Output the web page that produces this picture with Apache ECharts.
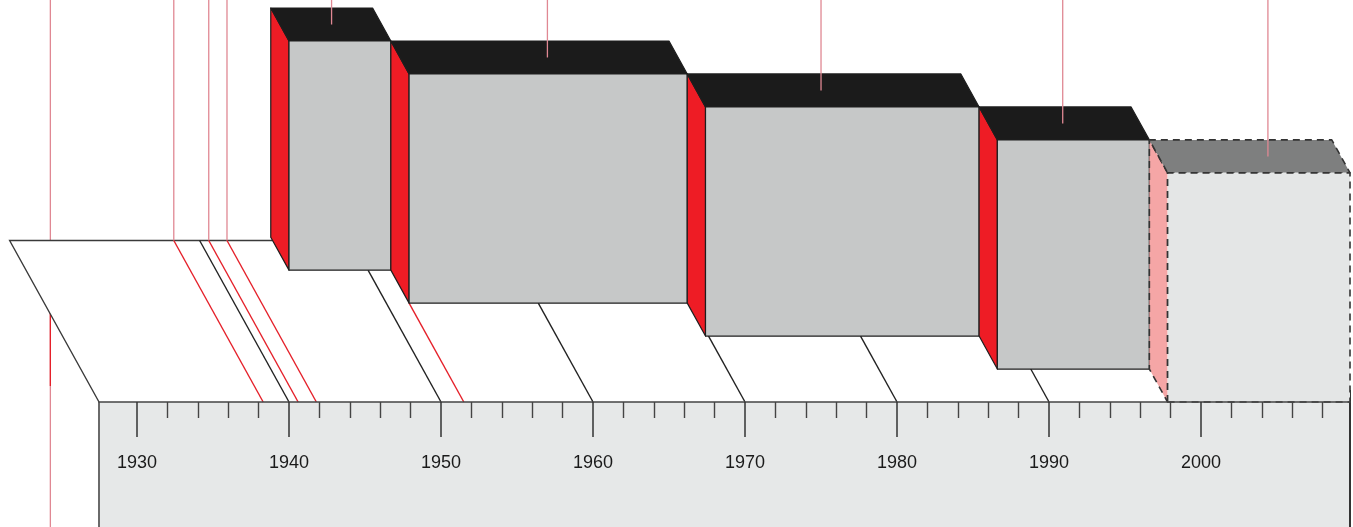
<!DOCTYPE html>
<html>
<head>
<meta charset="utf-8">
<script src="https://cdn.jsdelivr.net/npm/echarts@6/dist/echarts.min.js"></script>
<style>
  html, body { margin: 0; padding: 0; background: #ffffff; }
  #chart { width: 1353px; height: 527px; }
</style>
</head>
<body>
<div id="chart"></div>
<script>
// ---- Timeline scale (years) ----
const yearMin = 1927.5;
const yearMax = 2009.8;
const decadeTicks = [1930, 1940, 1950, 1960, 1970, 1980, 1990, 2000];
const minorTicks = [1932, 1934, 1936, 1938, 1942, 1944, 1946, 1948, 1952, 1954, 1956, 1958,
                    1962, 1964, 1966, 1968, 1972, 1974, 1976, 1978, 1982, 1984, 1986, 1988,
                    1992, 1994, 1996, 1998, 2002, 2004, 2006, 2008];

// ---- Eras, drawn as blocks standing on the floor, each one step nearer the front ----
const eraStart   = [1944.8, 1951.5, 1969.8, 1987.8, 1997.8];
const eraEnd     = [1951.5, 1969.8, 1987.8, 1997.8, 2009.8];
const eraDepth   = [4, 3, 2, 1, 0];
const eraHeight  = [57, 57, 57, 57, 57];
const eraPointer = [1948.2, 1961.2, 1978.0, 1992.7, 2005.0];
const eraProjected = [0, 0, 0, 0, 1];

// ---- Lines on the floor ----
const floorLineYears = [1940, 1950, 1960, 1970, 1980, 1990];
const eventYears = [1938.3, 1940.6, 1941.8];
const markerYears = [1951.5];
const leadYear = 1924.3;
const floorDepth = 4.9;

// Oblique projection: one depth step moves a point back by these axis amounts
const DEPTH_DX = 1.2;   // years
const DEPTH_DY = 8.2;   // height units

const RED = '#e5202a';
const PINK_LINE = '#e08893';
const INK = '#222222';

function project(api, year, depth, h) {
  return api.coord([year - depth * DEPTH_DX, h + depth * DEPTH_DY]);
}

// depth at which a floor line running back from the ruler meets the first block
function stopDepth(year) {
  let d = floorDepth;
  for (let i = 0; i < eraStart.length; i++) {
    if (year >= eraStart[i] && year <= eraEnd[i]) d = Math.min(d, eraDepth[i]);
  }
  return d;
}

const chart = echarts.init(document.getElementById('chart'), null, { renderer: 'canvas' });

const baseCustom = { type: 'custom', coordinateSystem: 'cartesian2d', clip: false, silent: true, animation: false };

const option = {
  animation: false,
  backgroundColor: '#ffffff',
  grid: { left: 99, right: 3, top: 0, bottom: 125 },
  xAxis: [
    {
      type: 'value', min: yearMin, max: yearMax, position: 'bottom', z: 20,
      splitLine: { show: false },
      axisLine: { show: true, lineStyle: { color: '#444', width: 1.5 } },
      axisTick: { show: true, customValues: decadeTicks, length: 35, lineStyle: { color: '#333', width: 1.5 } },
      axisLabel: {
        show: true, customValues: decadeTicks, margin: 52,
        fontFamily: 'Liberation Sans, Arial, sans-serif', fontSize: 18, color: '#1a1a1a',
        formatter: v => String(v)
      }
    },
    {
      type: 'value', min: yearMin, max: yearMax, position: 'bottom', z: 20,
      splitLine: { show: false },
      axisLine: { show: false },
      axisTick: { show: true, customValues: minorTicks, length: 16, lineStyle: { color: '#444', width: 1.4 } },
      axisLabel: { show: false }
    }
  ],
  yAxis: { type: 'value', min: 0, max: 100, show: false },
  series: [
    // vertical lead line at the far left, passing behind the floor
    Object.assign({}, baseCustom, {
      z: 1,
      data: [[leadYear]],
      renderItem: (params, api) => {
        const y = api.value(0);
        const top = api.coord([y, 100]);
        const floorEdge = api.coord([y, 0]);
        const h = api.getHeight();
        return { type: 'group', children: [
          { type: 'line', shape: { x1: top[0], y1: top[1], x2: top[0], y2: h }, style: { stroke: PINK_LINE, lineWidth: 1.3 } },
          { type: 'line', shape: { x1: top[0], y1: floorEdge[1] - 90, x2: top[0], y2: floorEdge[1] - 16 }, style: { stroke: RED, lineWidth: 1.3 } }
        ]};
      }
    }),
    // ruler strip under the axis
    Object.assign({}, baseCustom, {
      z: 2,
      data: [[yearMin, yearMax]],
      renderItem: (params, api) => {
        const l = api.coord([api.value(0), 0]);
        const r = api.coord([api.value(1), 0]);
        const h = api.getHeight();
        return { type: 'group', children: [
          { type: 'rect', shape: { x: l[0], y: l[1], width: r[0] - l[0], height: h - l[1] }, style: { fill: '#e6e8e8' } },
          { type: 'line', shape: { x1: l[0], y1: l[1], x2: l[0], y2: h }, style: { stroke: '#6a6a6a', lineWidth: 2 } },
          { type: 'line', shape: { x1: r[0], y1: l[1] - 12, x2: r[0], y2: h }, style: { stroke: '#333', lineWidth: 2 } }
        ]};
      }
    }),
    // floor
    Object.assign({}, baseCustom, {
      z: 3,
      data: [[yearMin, yearMax]],
      renderItem: (params, api) => {
        const a = api.value(0), b = api.value(1);
        const p = (yr, d) => project(api, yr, d, 0);
        return { type: 'group', children: [
          { type: 'polygon', shape: { points: [p(a, 0), p(a, floorDepth), p(b, floorDepth), p(b, 0)] }, style: { fill: '#ffffff' } },
          { type: 'polyline', shape: { points: [p(a, 0), p(a, floorDepth), p(eraStart[0], floorDepth)] },
            style: { stroke: '#3a3a3a', lineWidth: 1.4, fill: null } }
        ]};
      }
    }),
    // decade lines across the floor
    Object.assign({}, baseCustom, {
      z: 4,
      data: floorLineYears.map(y => [y]),
      renderItem: (params, api) => {
        const y = api.value(0);
        const a = project(api, y, 0, 0), b = project(api, y, stopDepth(y), 0);
        return { type: 'line', shape: { x1: a[0], y1: a[1], x2: b[0], y2: b[1] }, style: { stroke: INK, lineWidth: 1.4 } };
      }
    }),
    // events: a line from above down to the back of the floor, then forward to the ruler
    Object.assign({}, baseCustom, {
      z: 5,
      data: eventYears.map(y => [y]),
      renderItem: (params, api) => {
        const y = api.value(0);
        const top = api.coord([y - floorDepth * DEPTH_DX, 100]);
        const back = project(api, y, floorDepth, 0);
        const front = project(api, y, 0, 0);
        return { type: 'group', children: [
          { type: 'line', shape: { x1: top[0], y1: top[1], x2: back[0], y2: back[1] }, style: { stroke: PINK_LINE, lineWidth: 1.3 } },
          { type: 'line', shape: { x1: back[0], y1: back[1], x2: front[0], y2: front[1] }, style: { stroke: RED, lineWidth: 1.4 } }
        ]};
      }
    }),
    // marker from the ruler to the foot of a block
    Object.assign({}, baseCustom, {
      z: 6,
      data: markerYears.map(y => [y]),
      renderItem: (params, api) => {
        const y = api.value(0);
        const a = project(api, y, 0, 0), b = project(api, y, stopDepth(y), 0);
        return { type: 'line', shape: { x1: a[0], y1: a[1], x2: b[0], y2: b[1] }, style: { stroke: RED, lineWidth: 1.4 } };
      }
    }),
    // era blocks
    Object.assign({}, baseCustom, {
      z: 7,
      data: eraStart.map((s, i) => [s, eraEnd[i], eraDepth[i], eraHeight[i], eraPointer[i], eraProjected[i]]),
      renderItem: (params, api) => {
        const a = api.value(0), b = api.value(1), d = api.value(2), h = api.value(3), proj = api.value(5);
        const p = (yr, dp, ht) => project(api, yr, dp, ht);
        const c = proj
          ? { side: '#f5a6a6', top: '#7e7f7f', front: '#e4e6e6', edge: '#333333', dash: [7, 5], w: 1.6 }
          : { side: '#ee1c25', top: '#1b1b1b', front: '#c6c8c8', edge: '#1e1e1e', dash: null, w: 1.2 };
        const st = fill => ({ fill: fill, stroke: c.edge, lineWidth: c.w, lineDash: c.dash, lineJoin: 'round' });
        return { type: 'group', children: [
          { type: 'polygon', shape: { points: [p(a, d, 0), p(a, d, h), p(a, d + 1, h), p(a, d + 1, 0)] }, style: st(c.side) },
          { type: 'polygon', shape: { points: [p(a, d, h), p(b, d, h), p(b, d + 1, h), p(a, d + 1, h)] }, style: st(c.top) },
          { type: 'polygon', shape: { points: [p(a, d, 0), p(b, d, 0), p(b, d, h), p(a, d, h)] }, style: st(c.front) }
        ]};
      }
    }),
    // pointer lines rising from each block's top
    Object.assign({}, baseCustom, {
      z: 8,
      data: eraStart.map((s, i) => [eraPointer[i], eraDepth[i], eraHeight[i]]),
      renderItem: (params, api) => {
        const y = api.value(0), d = api.value(1) + 0.5, h = api.value(2);
        const top = api.coord([y - d * DEPTH_DX, 100]);
        const end = project(api, y, d, h);
        return { type: 'line', shape: { x1: top[0], y1: top[1], x2: end[0], y2: end[1] }, style: { stroke: PINK_LINE, lineWidth: 1.3 } };
      }
    })
  ]
};

chart.setOption(option);
</script>
</body>
</html>
